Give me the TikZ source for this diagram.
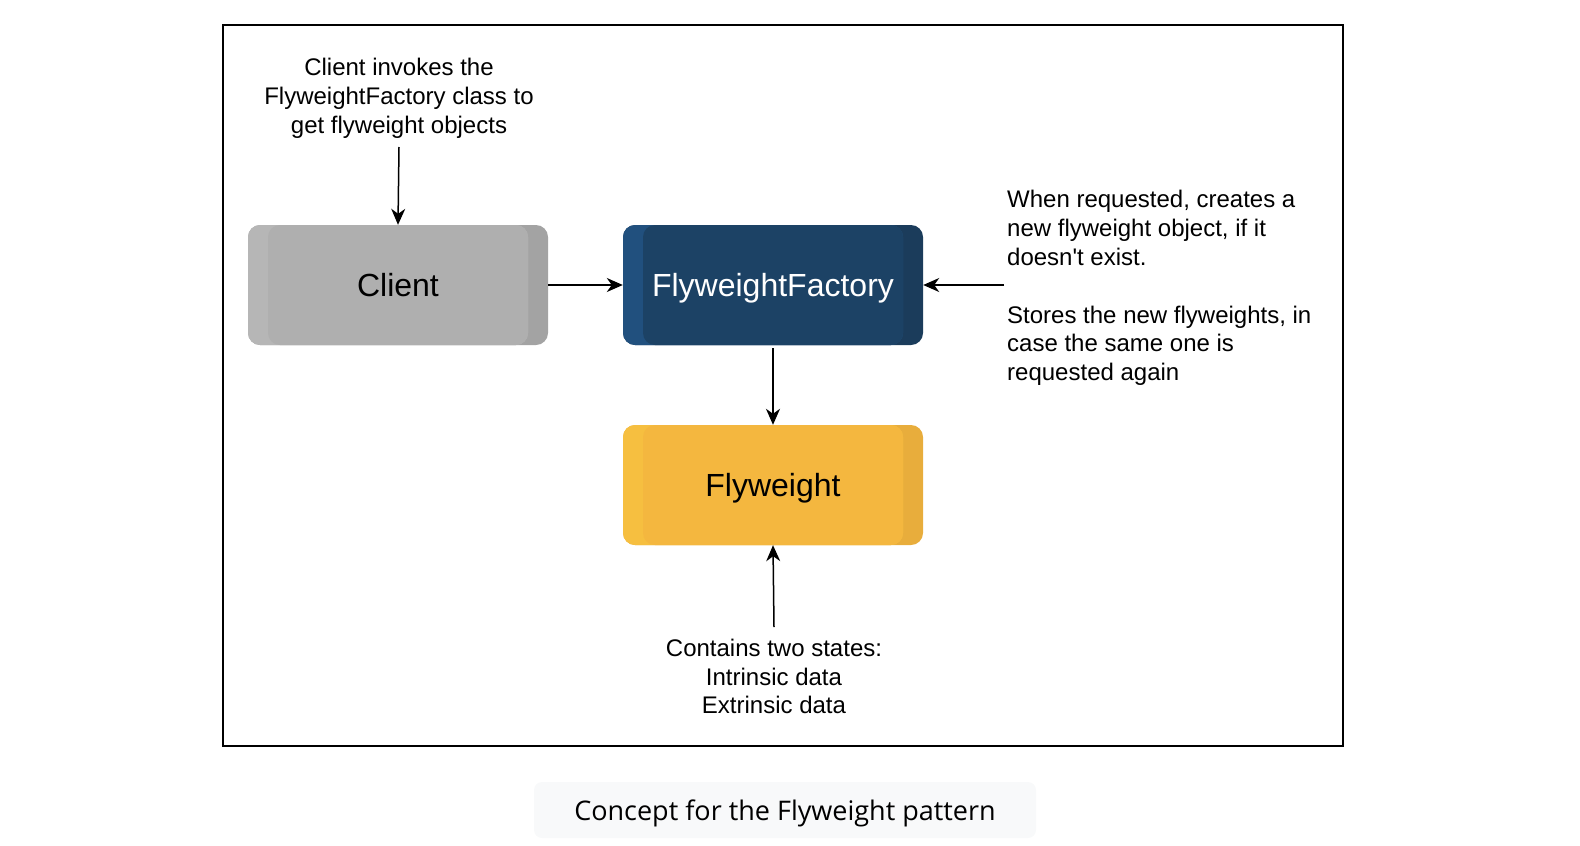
\documentclass[tikz,border=0pt]{standalone}
\usepackage{fontspec}
\setmainfont{Liberation Sans}[Ligatures=TeXOff]
\newfontfamily\capfont{Open Sans}
\usetikzlibrary{arrows.meta}
\definecolor{cliMain}{HTML}{AFAFAF}
\definecolor{cliLeft}{HTML}{B6B6B6}
\definecolor{cliRight}{HTML}{A3A3A3}
\definecolor{facMain}{HTML}{1C4265}
\definecolor{facLeft}{HTML}{21507E}
\definecolor{facRight}{HTML}{1B3C5B}
\definecolor{flyMain}{HTML}{F4B73F}
\definecolor{flyLeft}{HTML}{F6BF40}
\definecolor{flyRight}{HTML}{E8AD3C}
\definecolor{capBg}{HTML}{F8F9FA}
\tikzset{
  flybox/.style n args={3}{draw=none, rounded corners=12pt, minimum width=300pt, minimum height=120pt,
    inner sep=0pt, fill=#3, text depth=0pt,
    path picture={
      \fill[#1, rounded corners=12pt] (path picture bounding box.south west) rectangle ([xshift=-20pt]path picture bounding box.north east);
      \fill[#2, rounded corners=12pt] ([xshift=20pt]path picture bounding box.south west) rectangle ([xshift=-20pt]path picture bounding box.north east);
    },
    font=\fontsize{32}{38}\selectfont},
  note/.style={inner sep=0pt, align=center, font=\fontsize{24}{28.8}\selectfont},
  conn/.style={line width=1.5pt, -{Stealth[length=16pt,width=14pt,inset=5pt]}}
}
\begin{document}
\begin{tikzpicture}[x=1pt,y=-1pt]
\useasboundingbox (0,0) rectangle (1580,846);
\draw[line width=2pt] (223,25) rectangle (1343,746);
\node[flybox={cliLeft}{cliMain}{cliRight}, text=black] (client) at (398,285) {Client};
\node[flybox={facLeft}{facMain}{facRight}, text=white] (factory) at (773,285) {FlyweightFactory};
\node[flybox={flyLeft}{flyMain}{flyRight}, text=black] (fly) at (773,485) {Flyweight};
\node[note] (ctext) at (399,98.5) {Client invokes the\\FlyweightFactory class to\\get flyweight objects};
\node[note, align=left, anchor=west] (ftext) at (1007,288) {When requested, creates a\\new flyweight object, if it\\doesn't exist.\\[28.8pt]Stores the new flyweights, in\\case the same one is\\requested again};
\node[note] (wtext) at (774,676.5) {Contains two states:\\Intrinsic data\\Extrinsic data};
\coordinate (cstart) at (399,147);
\coordinate (fstart) at (1004,285);
\coordinate (wstart) at (774,627);
\draw[conn] (cstart) -- (client.north);
\draw[conn] (client.east) -- (factory.west);
\draw[conn] (fstart) -- (factory.east);
\draw[conn, shorten <=3pt] (factory.south) -- (fly.north);
\draw[conn] (wstart) -- (fly.south);
\node[fill=capBg, rounded corners=8pt, minimum width=502pt, minimum height=56pt, inner sep=0pt,
  font=\capfont\fontsize{27}{32}\selectfont, text depth=0pt] (caption) at (785,810) {Concept for the Flyweight pattern};
\end{tikzpicture}
\end{document}
